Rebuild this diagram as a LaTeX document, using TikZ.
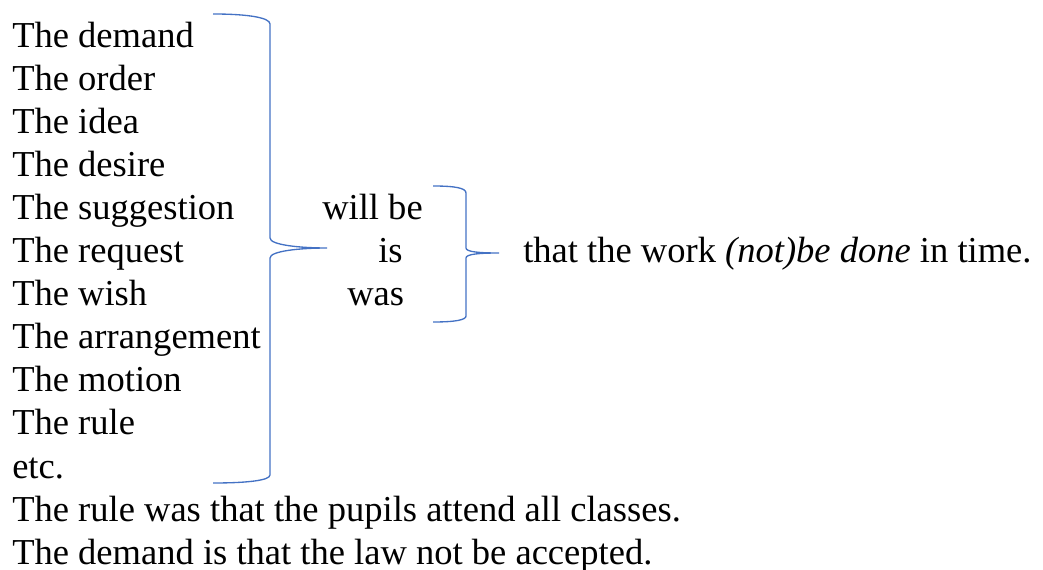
\documentclass[tikz,border=0pt]{standalone}
\usepackage{fontspec}
\setmainfont{Liberation Serif}
\begin{document}
\begin{tikzpicture}[x=0.75pt,y=-0.75pt,
  txt/.style={anchor=base west,inner sep=0pt,font=\fontsize{27.4pt}{32pt}\selectfont},
  brace/.style={draw=bracecol,line width=1pt}]
\definecolor{bracecol}{HTML}{4472C4}
\useasboundingbox (0,0) rectangle (1043,570);
\node[txt] (l1) at (12,48) {The demand};
\node[txt] (l2) at (12,91) {The order};
\node[txt] (l3) at (12,134) {The idea};
\node[txt] (l4) at (12,177) {The desire};
\node[txt] (l5) at (12,220) {The suggestion};
\node[txt] (l6) at (12,263) {The request};
\node[txt] (l7) at (12,306) {The wish};
\node[txt] (l8) at (12,349) {The arrangement};
\node[txt] (l9) at (12,392) {The motion};
\node[txt] (l10) at (12,435) {The rule};
\node[txt] (l11) at (12,478) {etc.};
\node[txt] (l12) at (12,521) {The rule was that the pupils attend all classes.};
\node[txt] (l13) at (12,564) {The demand is that the law not be accepted.};
\node[txt] (v1) at (322,220) {will be};
\node[txt] (v2) at (378,263) {is};
\node[txt] (v3) at (347,306) {was};
\node[txt] (s) at (523,263) {that the work \textit{(not)be done} in time.};
\draw[brace] (213,14) .. controls (250,14) and (270,18) .. (270,24) -- (270,238)
  .. controls (270,245) and (300,248) .. (327,248)
  .. controls (300,248) and (270,251) .. (270,258) -- (270,475)
  .. controls (270,480) and (250,483) .. (213,483);
\draw[brace] (433,186) .. controls (455,186) and (466,188) .. (466,193) -- (466,248)
  .. controls (466,252) and (480,253) .. (499,253)
  .. controls (480,253) and (466,254) .. (466,258) -- (466,316)
  .. controls (466,320) and (455,322) .. (433,322);
\end{tikzpicture}
\end{document}
